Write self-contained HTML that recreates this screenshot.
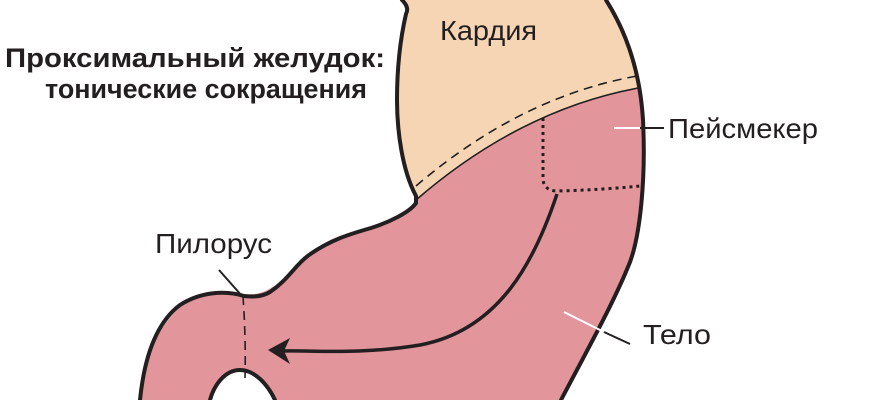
<!DOCTYPE html>
<html><head><meta charset="utf-8"><style>
html,body{margin:0;padding:0;background:#fff;width:870px;height:400px;overflow:hidden}
svg text{font-family:"Liberation Sans","DejaVu Sans",sans-serif}
</style></head><body>
<svg width="870" height="400" viewBox="0 0 870 400" xmlns="http://www.w3.org/2000/svg">
<path d="M416,200 Q520,110 638,88 L642,120 C645,180 640,240 630,262 C615,300 590,345 561,400 L275,400 C268,385 255,372 240,370 C225,370 214,385 210,400 L140,400 C145,350 165,310 200,295 C220,288 235,292 244,294 C262,296 272,288 285,278 C300,262 315,245 340,236 C370,228 400,222 416,200 Z" fill="#e2959b"/>
<path d="M402,0 L606,0 C620,25 634,55 638,88 Q520,110 416,200 C404,170 397,130 397,100 C397,70 400,40 406,14 Z" fill="#f6d5b5"/>
<g fill="none" stroke="#231f20" stroke-width="4" stroke-linecap="round">
<path d="M402,0 C408,6 408,10 406,14 C400,40 397,70 397,100 C397,130 402,170 416,196 L416,203 C410,212 390,222 371,228 C350,234 330,240 309,255 C295,265 288,280 270,292 C262,297 252,297 244,296 C225,290 200,292 180,305 C160,320 145,350 140,400"/>
<path d="M210,400 C214,385 225,370 240,370 C255,370 268,385 275,400"/>
<path d="M606,0 C625,30 640,70 643,120 C646,180 640,235 630,262 C615,300 590,345 561,400"/>
</g>
<path d="M416,200 Q520,110 638,88" fill="none" stroke="#231f20" stroke-width="1.6"/>
<path d="M416,186 Q520,97 637,76" fill="none" stroke="#231f20" stroke-width="1.6" stroke-dasharray="9,6"/>
<path d="M543,118 L543,178 Q543,190 556,191 Q600,190 640,186" fill="none" stroke="#231f20" stroke-width="3" stroke-dasharray="3,4"/>
<path d="M243,296 Q246,340 245,378" fill="none" stroke="#231f20" stroke-width="1.6" stroke-dasharray="9,6"/>
<path d="M557,194 C535,260 500,330 420,345 C360,355 310,350 282,351" fill="none" stroke="#231f20" stroke-width="3.5"/>
<path d="M268,350 L290,338 L284,351 L290,364 Z" fill="#231f20"/>
<line x1="614" y1="128" x2="640" y2="128" stroke="#fff" stroke-width="2"/>
<line x1="640" y1="128" x2="664" y2="128" stroke="#231f20" stroke-width="2"/>
<line x1="564" y1="312" x2="604" y2="332" stroke="#fff" stroke-width="2"/>
<line x1="604" y1="332" x2="630" y2="344" stroke="#231f20" stroke-width="2"/>
<line x1="219" y1="270" x2="242" y2="296" stroke="#231f20" stroke-width="2"/>
<text x="440" y="40" font-size="28" textLength="97" lengthAdjust="spacingAndGlyphs" fill="#231f20">Кардия</text>
<text x="668" y="138" font-size="28" textLength="150" lengthAdjust="spacingAndGlyphs" fill="#231f20">Пейсмекер</text>
<text x="643" y="344" font-size="28" textLength="68" lengthAdjust="spacingAndGlyphs" fill="#231f20">Тело</text>
<text x="155" y="253" font-size="28" textLength="117" lengthAdjust="spacingAndGlyphs" fill="#231f20">Пилорус</text>
<text x="5" y="67" font-size="27" font-weight="bold" textLength="380" lengthAdjust="spacingAndGlyphs" fill="#231f20">Проксимальный желудок:</text>
<text x="45" y="98" font-size="27" font-weight="bold" textLength="322" lengthAdjust="spacingAndGlyphs" fill="#231f20">тонические сокращения</text>
</svg>
</body></html>
